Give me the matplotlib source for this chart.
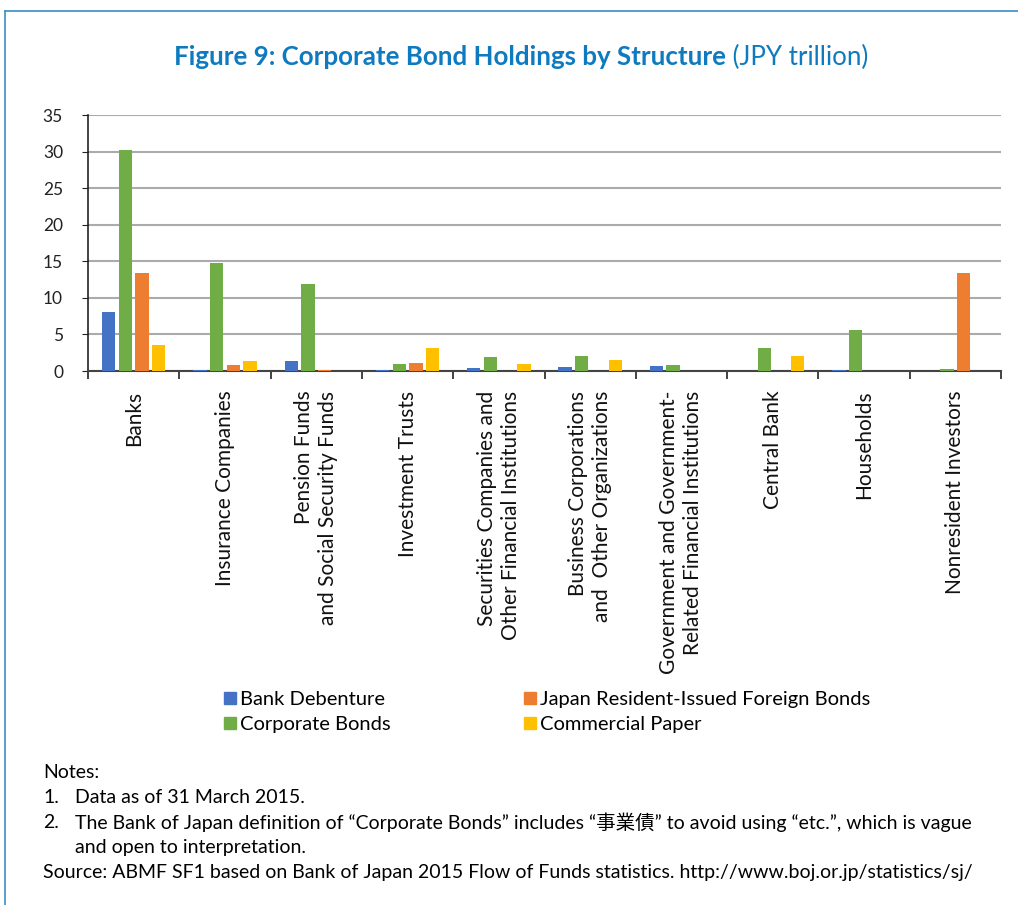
import matplotlib.pyplot as plt
import numpy as np
from matplotlib.lines import Line2D
from matplotlib.patches import Patch

plt.rcParams['font.family'] = ['Lato', 'Noto Sans CJK JP', 'DejaVu Sans']

# Data (JPY trillion)
categories = [
    'Banks',
    'Insurance Companies',
    'Pension Funds\nand Social Security Funds',
    'Investment Trusts',
    'Securities Companies and\nOther Financial Institutions',
    'Business Corporations\nand  Other Organizations',
    'Government and Government-\nRelated Financial Institutions',
    'Central Bank',
    'Households',
    'Nonresident Investors',
]
bank_debenture = [8.0, 0.2, 1.3, 0.2, 0.35, 0.6, 0.65, 0.0, 0.1, 0.0]
corporate_bonds = [30.2, 14.7, 11.9, 0.95, 1.95, 2.1, 0.85, 3.2, 5.55, 0.25]
foreign_bonds = [13.4, 0.85, 0.1, 1.1, 0.0, 0.0, 0.0, 0.0, 0.0, 13.4]
commercial_paper = [3.5, 1.3, 0.0, 3.1, 1.0, 1.45, 0.0, 2.0, 0.0, 0.0]

series = [
    ('Bank Debenture', bank_debenture, '#4472C4'),
    ('Corporate Bonds', corporate_bonds, '#70AD47'),
    ('Japan Resident-Issued Foreign Bonds', foreign_bonds, '#ED7D31'),
    ('Commercial Paper', commercial_paper, '#FFC000'),
]
x = np.arange(len(categories))
step = 0.183
bar_w = 0.145

fig = plt.figure(figsize=(10.18, 9.05), dpi=100)
ax = fig.add_axes([88 / 1018, 1 - 371 / 905, 913 / 1018, 256 / 905])

for j, (name, vals, col) in enumerate(series):
    ax.bar(x + (j - 1.5) * step, vals, width=bar_w, color=col, zorder=3)

ax.set_xlim(-0.5, len(categories) - 0.5)
ax.set_ylim(0, 35)
ax.set_yticks(range(0, 36, 5))
ax.yaxis.grid(True, color='#ababab', linewidth=1.5, zorder=0)
ax.set_axisbelow(True)
for s in ['top', 'right']:
    ax.spines[s].set_visible(False)
ax.spines['left'].set_color('#222222')
ax.spines['bottom'].set_color('#444444')
ax.spines['left'].set_linewidth(1.2)
ax.spines['bottom'].set_linewidth(1.5)
ax.tick_params(axis='y', length=4, labelsize=12.5, pad=14, colors='#222222')

# category boundary ticks, labels placed separately
ax.set_xticks(np.arange(-0.5, len(categories), 1.0))
ax.set_xticklabels([])
ax.tick_params(axis='x', length=6, width=1.2, colors='#222222')
for i, lab in enumerate(categories):
    ax.text(i, -2.7, lab, rotation=90, ha='center', va='top',
            multialignment='right', fontsize=15, color='#111111',
            transform=ax.transData, linespacing=1.25)

# legend
handles = [Patch(color=c, label=n) for n, v, c in series]
fig.legend(handles=handles, loc='upper left', bbox_to_anchor=(214 / 1018, 1 - 681 / 905),
           ncol=2, frameon=False, fontsize=14.5, handlelength=0.6, handleheight=0.6,
           handletextpad=0.2, columnspacing=6.6, labelspacing=0.4, borderpad=0)

# title in two styles
title_col = '#0E7AC0'
fig.canvas.draw()
t1 = fig.text(0.5, 1 - 57 / 905, 'Figure 9: Corporate Bond Holdings by Structure',
              fontsize=18.6, fontweight='bold', color=title_col, ha='left', va='center')
t2 = fig.text(0.5, 1 - 57 / 905, ' (JPY trillion)', fontsize=18.6, color=title_col,
              ha='left', va='center')
r = fig.canvas.get_renderer()
w1 = t1.get_window_extent(r).width
w2 = t2.get_window_extent(r).width
start = 521 - (w1 + w2) / 2
t1.set_x(start / 1018)
t2.set_x((start + w1) / 1018)

# notes
nfs = 14
fig.text(43 / 1018, 1 - 772 / 905, 'Notes:', fontsize=nfs, va='center')
fig.text(43 / 1018, 1 - 797 / 905, '1.', fontsize=nfs, va='center')
fig.text(75 / 1018, 1 - 797 / 905, 'Data as of 31 March 2015.', fontsize=nfs, va='center')
fig.text(43 / 1018, 1 - 822 / 905, '2.', fontsize=nfs, va='center')
fig.text(75 / 1018, 1 - 822 / 905,
         'The Bank of Japan definition of \u201cCorporate Bonds\u201d includes \u201c事業債\u201d '
         'to avoid using \u201cetc.\u201d, which is vague', fontsize=nfs, va='center')
fig.text(75 / 1018, 1 - 847 / 905, 'and open to interpretation.', fontsize=nfs, va='center')
fig.text(43 / 1018, 1 - 872 / 905,
         'Source: ABMF SF1 based on Bank of Japan 2015 Flow of Funds statistics. '
         'http://www.boj.or.jp/statistics/sj/', fontsize=nfs, va='center')

# frame lines
frame_col = '#3B8FC6'
fig.add_artist(Line2D([5 / 1018, 1], [1 - 11 / 905, 1 - 11 / 905], color=frame_col, lw=1.2))
fig.add_artist(Line2D([5 / 1018, 5 / 1018], [0, 1 - 11 / 905], color=frame_col, lw=1.2))

fig.savefig('out.png', dpi=100)
